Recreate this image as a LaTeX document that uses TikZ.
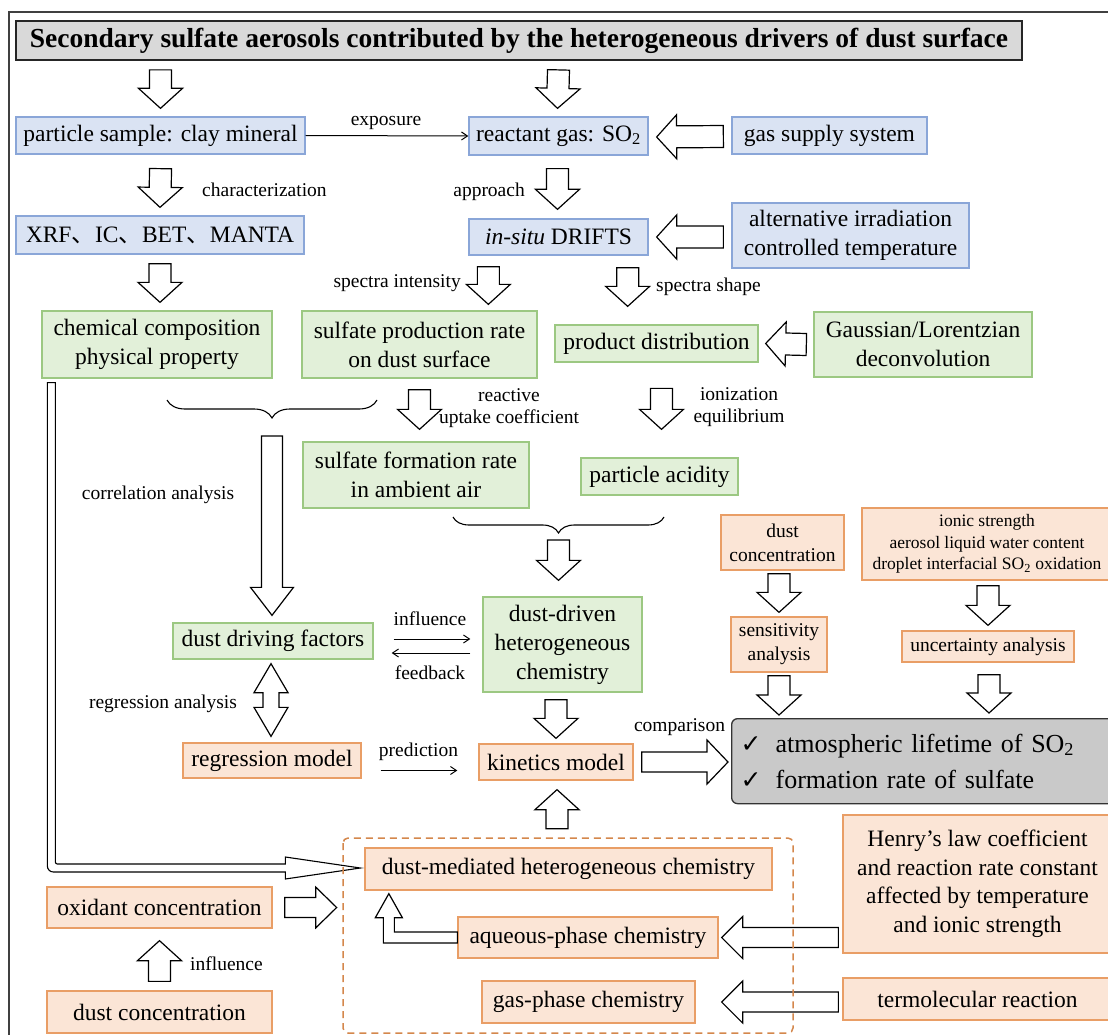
\documentclass[tikz,border=0pt]{standalone}
\usepackage{fontspec}
\setmainfont{Liberation Serif}
\newfontfamily\cjk{Noto Sans CJK SC}
\newfontfamily\symfont{DejaVu Sans}
\usetikzlibrary{arrows.meta,calc,decorations.pathreplacing}

\definecolor{bluefill}{HTML}{DAE3F3}
\definecolor{bluedraw}{HTML}{8AA6D8}
\definecolor{greenfill}{HTML}{E2F0D9}
\definecolor{greendraw}{HTML}{9CC882}
\definecolor{orangefill}{HTML}{FBE5D6}
\definecolor{orangedraw}{HTML}{E99E66}
\definecolor{dashorange}{HTML}{D4874C}
\definecolor{titlefill}{HTML}{D9D9D9}
\definecolor{resultfill}{HTML}{C9C9C9}
\definecolor{framegray}{HTML}{404040}

\newcommand{\boxfont}{\fontsize{23.5}{29}\selectfont}
\newcommand{\labelfont}{\fontsize{19.5}{22}\selectfont}
\newcommand{\smallfont}{\fontsize{19.5}{24}\selectfont}
\newcommand{\tinyfont}{\fontsize{17.5}{21.5}\selectfont}
\newcommand{\ccomma}{{\cjk 、}}
\newcommand{\chk}{\makebox[35pt][l]{\symfont\fontsize{25}{25}\selectfont ✓}}

% sizes of the hollow arrows: half shaft, half head, head length
\def\fsw{11pt}\def\fhw{22pt}\def\fhl{20pt}

\tikzset{
  fatsize/.code args={#1/#2/#3}{\def\fsw{#1}\def\fhw{#2}\def\fhl{#3}},
  fat/.style={draw=black, fill=white, line width=1.2pt, line join=miter},
  fatto/.style={to path={let \p1=(\tikztostart), \p2=(\tikztotarget),
      \n1={atan2(\y2-\y1,\x2-\x1)} in
      ($(\p1)+(\n1+90:\fsw)$) -- ($(\p2)+(\n1:-\fhl)+(\n1+90:\fsw)$)
      -- ($(\p2)+(\n1:-\fhl)+(\n1+90:\fhw)$) -- (\p2)
      -- ($(\p2)+(\n1:-\fhl)+(\n1-90:\fhw)$) -- ($(\p2)+(\n1:-\fhl)+(\n1-90:\fsw)$)
      -- ($(\p1)+(\n1-90:\fsw)$) -- cycle}},
  fatboth/.style={to path={let \p1=(\tikztostart), \p2=(\tikztotarget),
      \n1={atan2(\y2-\y1,\x2-\x1)} in
      (\p1) -- ($(\p1)+(\n1:\fhl)+(\n1+90:\fhw)$) -- ($(\p1)+(\n1:\fhl)+(\n1+90:\fsw)$)
      -- ($(\p2)+(\n1:-\fhl)+(\n1+90:\fsw)$) -- ($(\p2)+(\n1:-\fhl)+(\n1+90:\fhw)$)
      -- (\p2) -- ($(\p2)+(\n1:-\fhl)+(\n1-90:\fhw)$) -- ($(\p2)+(\n1:-\fhl)+(\n1-90:\fsw)$)
      -- ($(\p1)+(\n1:\fhl)+(\n1-90:\fsw)$) -- ($(\p1)+(\n1:\fhl)+(\n1-90:\fhw)$) -- cycle}},
}

\begin{document}
\begin{tikzpicture}[x=1pt,y=-1pt,
    box/.style={draw,line width=1.3pt,inner sep=0pt,align=center,font=\boxfont},
    bluebox/.style={box,draw=bluedraw,fill=bluefill},
    greenbox/.style={box,draw=greendraw,fill=greenfill},
    orangebox/.style={box,draw=orangedraw,fill=orangefill},
    lbl/.style={inner sep=0pt,align=center,font=\labelfont},
    thinarrow/.style={line width=1pt,-{Straight Barb[length=6pt,width=8pt]}},
    curly/.style={decorate,decoration={brace,mirror,amplitude=#1},line width=1.1pt}]
  \useasboundingbox (0,0) rectangle (1108,1035);
  \clip (0,0) rectangle (1108,1035);
  \draw[framegray,line width=2pt] (9,1040) -- (9,12) -- (1110,12);

  % title
  \node[box,draw=black!85,line width=1.8pt,fill=titlefill,minimum width=1006pt,minimum height=39pt,
    font=\fontsize{27.5}{32}\selectfont\bfseries] (title) at (519,40.5)
    {Secondary sulfate aerosols contributed by the heterogeneous drivers of dust surface};

  % laboratory part
  \node[bluebox,minimum width=289pt,minimum height=37pt] (psample) at (160.5,135.5) {particle sample: clay mineral};
  \node[bluebox,minimum width=179pt,minimum height=38pt] (reactant) at (558.5,136) {reactant gas: SO\textsubscript{2}};
  \node[bluebox,minimum width=195pt,minimum height=37pt] (gas) at (829.5,135.5) {gas supply system};
  \node[bluebox,minimum width=288pt,minimum height=38pt] (xrf) at (160,235) {XRF\ccomma IC\ccomma BET\ccomma MANTA};
  \node[bluebox,minimum width=179pt,minimum height=36pt] (drifts) at (558.5,237) {\textit{in-situ} DRIFTS};
  \node[bluebox,minimum width=237pt,minimum height=65pt] (alt) at (850.5,235.5) {alternative irradiation\\controlled temperature};

  \node[greenbox,minimum width=230pt,minimum height=67pt] (chem) at (157,344.5) {chemical composition\\physical property};
  \node[greenbox,minimum width=235pt,minimum height=67pt] (prodrate) at (419.5,344.5) {sulfate production rate\\on dust surface};
  \node[greenbox,minimum width=203pt,minimum height=37pt] (proddist) at (656.5,343.5) {product distribution};
  \node[greenbox,minimum width=218pt,minimum height=65pt] (gauss) at (923,344.5) {Gaussian/Lorentzian\\deconvolution};
  \node[greenbox,minimum width=226pt,minimum height=66pt] (formrate) at (416,475) {sulfate formation rate\\in ambient air};
  \node[greenbox,minimum width=157pt,minimum height=37pt] (acidity) at (659.5,476.5) {particle acidity};
  \node[greenbox,minimum width=200pt,minimum height=36pt] (ddf) at (273,641) {dust driving factors};
  \node[greenbox,minimum width=159pt,minimum height=95pt] (ddchem) at (562.5,644.5) {dust-driven\\heterogeneous\\chemistry};

  % model part
  \node[orangebox,font=\smallfont,minimum width=123pt,minimum height=55pt] (dconcA) at (782.5,542.5) {dust\\concentration};
  \node[orangebox,font=\smallfont,minimum width=96pt,minimum height=55pt] (sens) at (779,644.5) {sensitivity\\analysis};
  \node[orangebox,font=\tinyfont,minimum width=250pt,minimum height=72pt] (ionic) at (987,544)
    {ionic strength\\aerosol liquid water content\\droplet interfacial SO\textsubscript{2} oxidation};
  \node[orangebox,font=\smallfont,minimum width=172pt,minimum height=31pt] (uncert) at (988,646.5) {uncertainty analysis};
  \node[orangebox,minimum width=178pt,minimum height=35pt] (regm) at (272,760.5) {regression model};
  \node[orangebox,minimum width=154pt,minimum height=36pt] (kinetics) at (556,762) {kinetics model};
  \node[box,draw=black!80,fill=resultfill,rounded corners=6pt,anchor=north west,minimum width=400pt,
    minimum height=85pt,text width=382pt,inner xsep=9pt,align=left,font=\fontsize{26}{36}\selectfont] (result) at (731,718)
    {\chk atmospheric lifetime of SO\textsubscript{2}\\\chk formation rate of sulfate};
  \node[orangebox,minimum width=407pt,minimum height=42pt] (dmed) at (568.5,869) {dust-mediated heterogeneous chemistry};
  \node[orangebox,minimum width=225pt,minimum height=41pt] (oxid) at (159.5,907.5) {oxidant concentration};
  \node[orangebox,minimum width=260pt,minimum height=41pt] (aqueous) at (588,937.5) {aqueous-phase chemistry};
  \node[orangebox,minimum width=225pt,minimum height=42pt] (dconcB) at (159.5,1012) {dust concentration};
  \node[orangebox,minimum width=213pt,minimum height=42pt] (gasph) at (588.5,1002) {gas-phase chemistry};
  \node[orangebox,font=\fontsize{23.5}{28.5}\selectfont,minimum width=269pt,minimum height=138pt] (henry) at (977.5,884)
    {Henry’s law coefficient\\and reaction rate constant\\affected by temperature\\and ionic strength};
  \node[orangebox,minimum width=269pt,minimum height=42pt] (termol) at (977.5,999) {termolecular reaction};

  % braces
  \draw[curly=18pt] (167,400) -- (377,400) coordinate[midway] (braceA);
  \draw[curly=16pt] (453,517) -- (664,517) coordinate[midway] (braceB);

  % hollow arrows
  \draw[fat] ($(psample.north |- title.south)+(0,9)$) to[fatto] ($(psample.north)+(0,-8)$);
  \draw[fat] ($(reactant.north |- title.south)+(0,9)$) to[fatto] ($(reactant.north)+(-1,-8)$);
  \draw[fat] ($(gas.west)+(-8,1)$) to[fatto] ($(reactant.east)+(8,1)$);
  \draw[fat] ($(psample.south)+(0,14)$) to[fatto] ($(xrf.north)+(0,-8)$);
  \draw[fat] ($(reactant.south)+(-1,13)$) to[fatto] ($(drifts.north)+(-1,-9)$);
  \draw[fat] ($(alt.west |- drifts.east)+(-8,0)$) to[fatto] ($(drifts.east)+(8,0)$);
  \draw[fat] ($(xrf.south)+(0,9)$) to[fatto] ($(xrf.south |- chem.north)+(0,-8)$);
  \draw[fat] ($(drifts.south west)+(20,11)$) to[fatto] ($(drifts.south west |- prodrate.north)+(20,-6)$);
  \draw[fat] ($(drifts.south east)+(-21,12)$) to[fatto] ($(drifts.south east |- proddist.north)+(-21,-18)$);
  \draw[fat] ($(gauss.west)+(-7,0)$) to[fatto] ($(proddist.east)+(7,0)$);
  \draw[fat] ($(prodrate.south)+(0,11)$) to[fatto] ($(prodrate.south |- formrate.north)+(0,-12)$);
  \draw[fat] ($(acidity.north)+(2,-69)$) to[fatto] ($(acidity.north)+(2,-28)$);
  \draw[fat,fatsize=10.5pt/21.5pt/28pt] ($(braceA)+(0,36)$) to[fatto] ($(braceA |- ddf.north)+(0,-7)$);
  \draw[fat] ($(braceB)+(0,23)$) to[fatto] ($(braceB |- ddchem.north)+(0,-16)$);
  \draw[fat] ($(sens.north |- dconcA.south)+(0,3)$) to[fatto] ($(sens.north)+(0,-4)$);
  \draw[fat] ($(uncert.north |- ionic.south)+(0,5)$) to[fatto] ($(uncert.north)+(0,-5)$);
  \draw[fat] ($(sens.south)+(0,3)$) to[fatto] ($(sens.south |- result.north)+(0,-3)$);
  \draw[fat] ($(uncert.south)+(1,12)$) to[fatto] ($(uncert.south |- result.north)+(1,-5)$);
  \draw[fat] ($(kinetics.north |- ddchem.south)+(0,7)$) to[fatto] ($(kinetics.north)+(0,-5)$);
  \draw[fat,fatsize=10pt/22pt/21pt] ($(kinetics.east)+(8,0)$) to[fatto] ($(result.west |- kinetics.east)+(-3,0)$);
  \draw[fat] ($(kinetics.south)+(1,48)$) to[fatto] ($(kinetics.south)+(1,9)$);
  \draw[fat,fatsize=10pt/20.5pt/21pt] ($(oxid.east)+(12,0)$) to[fatto] ($(oxid.east)+(64,0)$);
  \draw[fat,fatsize=10pt/21pt/21pt] ($(henry.west |- aqueous.east)+(-4,0)$) to[fatto] ($(aqueous.east)+(3,0)$);
  \draw[fat,fatsize=10pt/21pt/21pt] ($(termol.west |- gasph.east)+(-4,0)$) to[fatto] ($(gasph.east)+(26,0)$);
  \draw[fat] ($(dconcB.north)+(0,-9)$) to[fatto] ($(oxid.south)+(0,12)$);
  \draw[fat,fatsize=8pt/17pt/29pt] ($(ddf.south)+(-2,4)$) to[fatboth] ($(regm.north)+(-1,-6)$);

  % double-line arrow from the properties to the dust-mediated chemistry
  \draw[fat,line width=1.1pt] let \p1=($(chem.south west)+(6,4)$), \p2=($(dmed.west)+(-4,-1)$) in
    (\x1,\y1) -- (\x1,\y2+2pt) to[out=-90,in=180] (\x1+6pt,\y2-4pt) -- (\x2-75pt,\y2-4pt)
    -- (\x2-75pt,\y2-11pt) -- (\p2) -- (\x2-75pt,\y2+11pt) -- (\x2-75pt,\y2+4pt)
    -- (\x1+10pt,\y2+4pt) to[out=180,in=-90] (\x1+8pt,\y2+6pt) -- (\x1+8pt,\y1) -- cycle;
  % bent arrow from the aqueous phase
  \draw[fat] let \p1=(aqueous.west), \p2=($(dmed.south west)+(24.5,3)$) in
    (\x1,\y1+5.5pt) -- (\x2+5.5pt,\y1+5.5pt) -- (\x2+5.5pt,\y2-24pt) -- (\x2+13.5pt,\y2-24pt)
    -- (\p2) -- (\x2-13.5pt,\y2-24pt) -- (\x2-5.5pt,\y2-24pt) -- (\x2-5.5pt,\y1-5.5pt)
    -- (\x1,\y1-5.5pt) -- cycle;

  % thin arrows
  \draw[thinarrow] (psample.east) -- (reactant.west);
  \draw[thinarrow] ($(ddf.east)+(20,-2)$) -- ($(ddf.east -| ddchem.west)+(-12,-2)$);
  \draw[thinarrow] ($(ddf.east -| ddchem.west)+(-12,12)$) -- ($(ddf.east)+(18,12)$);
  \draw[thinarrow] ($(regm.east)+(19,10)$) -- ($(regm.east -| kinetics.west)+(-21,10)$);

  % labels
  \node[lbl] (lexpo) at (386,123) {exposure};
  \node[lbl,anchor=west] (lchar) at (202,190) {characterization};
  \node[lbl,anchor=east] (lappr) at (525,192) {approach};
  \node[lbl,anchor=east] (lint) at (461,283) {spectra intensity};
  \node[lbl,anchor=west] (lshape) at (656,287) {spectra shape};
  \node[lbl] (lupt) at (509,408) {reactive\\uptake coefficient};
  \node[lbl] (lion) at (739,407) {ionization\\equilibrium};
  \node[lbl] (lcorr) at (158,495) {correlation analysis};
  \node[lbl] (linfl) at (430,619) {influence};
  \node[lbl] (lfeed) at (430,673) {feedback};
  \node[lbl] (lregr) at (163,704) {regression analysis};
  \node[lbl] (lpred) at (418.5,752) {prediction};
  \node[lbl] (lcomp) at (679.5,727) {comparison};
  \node[lbl,anchor=west] (linflB) at (190,964) {influence};

  % dashed frame round the three chemistries
  \draw[dashorange,line width=1.5pt,dash pattern=on 7pt off 5pt,rounded corners=5pt]
    (343,838) rectangle (793,1033);
\end{tikzpicture}
\end{document}
